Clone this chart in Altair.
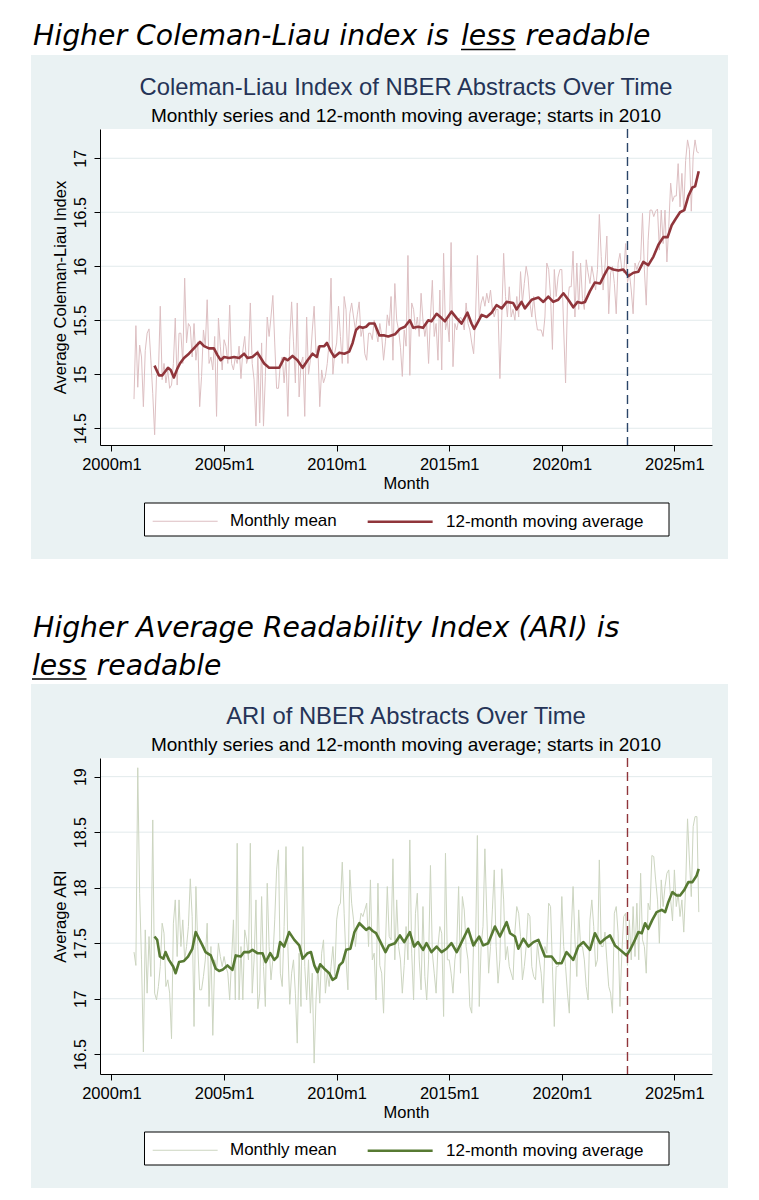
import altair as alt
import pandas as pd

# ---------------- data ----------------
FIRST_YEAR = 2001  # first monthly observation = 2001m1, one value per month

series = ["Monthly mean", "12-month moving average"]
x_ticks = [2000, 2005, 2010, 2015, 2020, 2025]
cli_ticks = [14.5, 15, 15.5, 16, 16.5, 17]
ari_ticks = [16.5, 17, 17.5, 18, 18.5, 19]
event_month = [2022 + 11 / 12]  # 2022m12, dashed vertical line

cli_monthly = [
    14.77, 15.45, 14.88, 15.27, 15.16, 14.70, 15.22, 15.38, 15.42, 15.13, 14.82, 14.44,
    14.99, 15.00, 15.63, 14.95, 15.10, 14.92, 15.04, 14.87, 14.90, 15.10, 15.52, 14.90,
    15.38, 15.38, 15.10, 15.89, 15.29, 15.47, 15.44, 15.16, 15.47, 15.13, 15.30, 14.70,
    14.98, 15.41, 15.26, 15.69, 15.10, 15.16, 15.04, 15.35, 14.61, 15.52, 15.26, 15.04,
    15.32, 15.26, 15.10, 15.64, 15.10, 15.04, 15.16, 15.10, 15.26, 14.96, 15.22, 15.35,
    15.10, 15.16, 15.66, 15.10, 14.95, 14.52, 15.22, 14.55, 15.29, 14.52, 14.98, 15.53,
    15.35, 15.53, 15.73, 15.29, 14.87, 14.87, 15.10, 15.16, 14.92, 15.16, 14.61, 15.32,
    15.67, 15.30, 14.92, 15.66, 14.79, 15.10, 15.16, 14.61, 15.53, 15.00, 15.13, 15.40,
    15.63, 15.20, 15.26, 14.70, 15.04, 14.92, 14.98, 15.10, 15.30, 15.89, 15.00, 15.20,
    15.29, 15.63, 15.35, 15.10, 15.72, 15.60, 15.10, 15.56, 15.66, 15.53, 15.41, 15.55,
    15.67, 15.35, 15.44, 15.19, 15.13, 15.38, 15.38, 15.32, 15.50, 15.40, 15.30, 15.47,
    15.36, 15.13, 15.30, 15.55, 15.45, 15.72, 15.13, 15.84, 15.50, 15.41, 15.25, 14.98,
    15.41, 15.26, 16.10, 14.99, 15.66, 15.60, 15.41, 15.53, 15.35, 15.75, 15.50, 15.35,
    15.47, 15.10, 15.53, 15.87, 15.35, 15.47, 15.13, 15.78, 15.04, 16.12, 15.41, 15.50,
    15.30, 16.22, 15.07, 15.47, 15.41, 15.50, 15.53, 15.50, 15.41, 15.66, 15.47, 15.41,
    15.29, 15.19, 15.53, 16.10, 15.53, 15.66, 15.72, 15.63, 15.75, 15.66, 15.78, 15.60,
    15.53, 15.60, 15.60, 14.96, 15.53, 16.12, 15.72, 15.53, 15.81, 15.53, 15.60, 15.50,
    15.72, 15.53, 15.95, 15.66, 15.84, 16.00, 15.90, 15.66, 15.53, 15.72, 15.53, 15.41,
    15.41, 15.41, 15.35, 15.53, 16.03, 15.97, 15.72, 15.23, 15.97, 15.72, 15.90, 15.97,
    15.97, 15.41, 14.92, 15.66, 15.81, 15.81, 16.14, 15.53, 16.03, 15.60, 16.03, 15.70,
    15.60, 16.06, 15.94, 15.84, 16.00, 15.90, 15.78, 15.97, 16.48, 16.09, 15.78, 16.00,
    16.28, 15.56, 15.94, 16.00, 15.84, 15.56, 16.03, 16.12, 15.97, 15.94, 16.21, 15.85,
    15.94, 15.78, 15.56, 16.03, 15.97, 16.03, 16.06, 16.49, 15.97, 15.64, 16.24, 16.52,
    16.52, 16.46, 16.51, 16.53, 16.15, 16.52, 16.21, 16.52, 16.04, 16.37, 16.77, 16.60,
    16.65, 16.65, 16.95, 16.55, 16.86, 16.52, 16.98, 17.17, 17.08, 16.51, 17.02, 17.17,
    17.06, 17.05,
]

cli_ma_t = [
    2001.91, 2002.11, 2002.26, 2002.51, 2002.63, 2002.77, 2002.92, 2003.04, 2003.22, 2003.44,
    2003.66, 2003.93, 2004.11, 2004.33, 2004.55, 2004.70, 2004.85, 2005.00, 2005.22, 2005.45,
    2005.67, 2005.89, 2006.04, 2006.26, 2006.48, 2006.63, 2006.78, 2007.00, 2007.23, 2007.45,
    2007.67, 2007.82, 2008.04, 2008.26, 2008.49, 2008.71, 2008.93, 2009.12, 2009.24, 2009.45,
    2009.57, 2009.75, 2009.90, 2010.12, 2010.34, 2010.56, 2010.71, 2010.86, 2011.01, 2011.16,
    2011.31, 2011.45, 2011.68, 2011.90, 2012.12, 2012.29, 2012.59, 2012.81, 2013.03, 2013.25,
    2013.40, 2013.62, 2013.84, 2014.07, 2014.21, 2014.44, 2014.66, 2014.81, 2015.10, 2015.33,
    2015.55, 2015.81, 2015.99, 2016.11, 2016.29, 2016.44, 2016.66, 2016.88, 2017.10, 2017.33,
    2017.55, 2017.84, 2017.99, 2018.21, 2018.36, 2018.66, 2018.96, 2019.18, 2019.40, 2019.62,
    2019.84, 2020.07, 2020.29, 2020.51, 2020.70, 2020.88, 2021.03, 2021.25, 2021.47, 2021.70,
    2021.89, 2022.07, 2022.29, 2022.51, 2022.73, 2022.96, 2023.18, 2023.40, 2023.62, 2023.84,
    2024.07, 2024.29, 2024.51, 2024.70, 2024.88, 2025.06, 2025.25, 2025.44, 2025.62, 2025.80,
    2025.92, 2026.08,
]
cli_ma_v = [
    15.08, 14.99, 14.99, 15.06, 15.04, 14.97, 15.05, 15.10, 15.15, 15.19,
    15.24, 15.30, 15.26, 15.24, 15.24, 15.18, 15.13, 15.16, 15.15, 15.16,
    15.15, 15.19, 15.15, 15.16, 15.20, 15.15, 15.10, 15.06, 15.06, 15.06,
    15.15, 15.13, 15.17, 15.13, 15.06, 15.13, 15.19, 15.16, 15.26, 15.26,
    15.29, 15.21, 15.16, 15.20, 15.19, 15.21, 15.29, 15.41, 15.44, 15.43,
    15.44, 15.47, 15.47, 15.36, 15.36, 15.35, 15.37, 15.42, 15.44, 15.50,
    15.43, 15.44, 15.43, 15.50, 15.49, 15.56, 15.52, 15.49, 15.58, 15.52,
    15.47, 15.57, 15.47, 15.42, 15.49, 15.55, 15.53, 15.57, 15.64, 15.61,
    15.67, 15.66, 15.60, 15.67, 15.61, 15.69, 15.71, 15.67, 15.72, 15.67,
    15.69, 15.75, 15.69, 15.62, 15.67, 15.66, 15.67, 15.77, 15.85, 15.84,
    15.92, 15.99, 15.97, 15.96, 15.97, 15.91, 15.94, 15.95, 16.04, 16.01,
    16.09, 16.20, 16.27, 16.27, 16.38, 16.44, 16.50, 16.52, 16.65, 16.73,
    16.74, 16.88,
]

ari_monthly = [
    17.42, 17.30, 19.08, 17.95, 17.35, 16.52, 17.62, 17.05, 17.56, 17.20, 18.61, 17.05,
    16.99, 17.11, 17.29, 17.68, 17.59, 17.11, 17.17, 17.05, 16.64, 17.68, 17.89, 17.38,
    17.89, 17.47, 17.71, 17.35, 17.47, 17.65, 18.08, 17.74, 16.75, 18.01, 17.47, 17.08,
    17.08, 17.20, 17.35, 17.68, 16.93, 17.47, 16.67, 17.35, 17.26, 17.50, 17.38, 17.29,
    17.38, 17.29, 17.23, 16.99, 17.35, 17.71, 16.99, 18.40, 16.99, 17.47, 16.99, 17.62,
    17.53, 17.35, 18.40, 17.05, 17.35, 17.89, 16.91, 17.05, 17.92, 17.29, 16.93, 18.04,
    17.47, 17.17, 17.35, 17.71, 18.16, 18.34, 17.23, 17.11, 17.65, 18.37, 17.47, 16.95,
    17.23, 17.35, 17.05, 16.60, 17.41, 16.93, 18.37, 17.29, 16.99, 17.35, 16.87, 17.23,
    16.42, 16.99, 17.29, 16.96, 17.41, 17.53, 17.05, 17.23, 17.11, 17.29, 17.47, 17.20,
    17.71, 17.83, 17.86, 18.23, 17.77, 17.35, 17.08, 18.16, 17.86, 17.71, 17.47, 17.65,
    17.65, 17.77, 17.74, 17.80, 17.86, 17.47, 18.07, 17.35, 17.41, 16.99, 18.04, 17.30,
    17.23, 16.87, 17.47, 18.01, 17.56, 17.53, 18.26, 17.35, 17.89, 17.47, 17.35, 17.05,
    17.30, 17.65, 17.35, 18.43, 17.41, 16.99, 17.77, 17.95, 17.35, 17.08, 17.83, 17.20,
    16.99, 17.35, 18.20, 17.41, 17.23, 17.05, 17.47, 17.65, 17.59, 16.84, 18.31, 17.35,
    17.35, 17.23, 17.05, 17.35, 17.47, 18.01, 17.23, 17.92, 17.80, 17.47, 17.35, 16.93,
    16.87, 17.53, 17.47, 18.47, 16.93, 17.47, 17.65, 18.35, 17.77, 17.23, 17.47, 17.80,
    18.16, 17.47, 17.14, 17.35, 18.17, 17.89, 17.35, 17.47, 17.29, 17.23, 17.17, 17.60,
    17.83, 17.77, 17.56, 17.17, 17.29, 17.47, 17.77, 17.74, 17.29, 17.20, 17.17, 17.50,
    17.35, 17.23, 16.96, 17.47, 17.41, 17.86, 17.83, 17.29, 16.75, 17.29, 17.29, 17.35,
    17.92, 17.47, 17.29, 17.05, 16.87, 17.59, 18.01, 17.53, 17.20, 17.80, 17.47, 17.47,
    17.35, 17.11, 16.99, 17.71, 17.89, 17.65, 17.29, 17.35, 18.25, 17.47, 17.47, 17.60,
    17.35, 17.11, 17.05, 16.87, 17.77, 17.83, 17.59, 16.93, 17.41, 17.74, 17.77, 17.30,
    17.71, 17.35, 17.83, 17.38, 17.86, 17.35, 18.13, 17.53, 17.47, 17.23, 17.86, 17.80,
    18.29, 18.28, 18.07, 17.89, 17.50, 18.07, 17.83, 18.01, 18.13, 18.16, 17.89, 17.70,
    18.16, 17.83, 17.95, 17.74, 17.89, 17.60, 18.01, 18.62, 18.25, 17.92, 18.55, 18.64,
    18.64, 17.78,
]

ari_ma_t = [
    2001.91, 2002.03, 2002.15, 2002.30, 2002.40, 2002.55, 2002.74, 2002.85, 2003.00, 2003.22,
    2003.40, 2003.59, 2003.74, 2003.89, 2004.04, 2004.18, 2004.41, 2004.63, 2004.78, 2004.93,
    2005.15, 2005.37, 2005.52, 2005.74, 2005.89, 2006.11, 2006.26, 2006.48, 2006.71, 2006.85,
    2007.05, 2007.23, 2007.37, 2007.49, 2007.67, 2007.89, 2008.12, 2008.34, 2008.49, 2008.71,
    2008.86, 2009.01, 2009.15, 2009.27, 2009.45, 2009.67, 2009.82, 2009.97, 2010.12, 2010.27,
    2010.42, 2010.61, 2010.79, 2011.01, 2011.16, 2011.31, 2011.45, 2011.60, 2011.75, 2011.90,
    2012.17, 2012.32, 2012.59, 2012.81, 2013.00, 2013.25, 2013.44, 2013.61, 2013.84, 2013.99,
    2014.21, 2014.44, 2014.66, 2014.88, 2015.10, 2015.33, 2015.55, 2015.84, 2016.07, 2016.33,
    2016.51, 2016.73, 2017.03, 2017.25, 2017.55, 2017.70, 2017.92, 2018.07, 2018.29, 2018.52,
    2018.74, 2018.96, 2019.25, 2019.55, 2019.77, 2019.99, 2020.21, 2020.51, 2020.73, 2020.96,
    2021.25, 2021.47, 2021.70, 2021.92, 2022.14, 2022.36, 2022.59, 2022.88, 2023.03, 2023.18,
    2023.40, 2023.55, 2023.70, 2023.84, 2024.02, 2024.21, 2024.44, 2024.59, 2024.73, 2024.91,
    2025.10, 2025.25, 2025.44, 2025.62, 2025.80, 2025.99, 2026.08,
]
ari_ma_v = [
    17.56, 17.53, 17.38, 17.36, 17.42, 17.35, 17.29, 17.23, 17.33, 17.34,
    17.38, 17.45, 17.60, 17.54, 17.48, 17.42, 17.39, 17.27, 17.25, 17.26,
    17.30, 17.26, 17.39, 17.38, 17.42, 17.42, 17.44, 17.41, 17.41, 17.33,
    17.41, 17.35, 17.38, 17.51, 17.47, 17.60, 17.53, 17.48, 17.36, 17.41,
    17.42, 17.30, 17.24, 17.31, 17.27, 17.23, 17.17, 17.19, 17.30, 17.33,
    17.44, 17.45, 17.60, 17.68, 17.65, 17.62, 17.64, 17.61, 17.59, 17.53,
    17.42, 17.48, 17.50, 17.57, 17.51, 17.60, 17.47, 17.51, 17.44, 17.50,
    17.42, 17.47, 17.42, 17.45, 17.50, 17.42, 17.51, 17.63, 17.48, 17.56,
    17.48, 17.50, 17.65, 17.56, 17.69, 17.59, 17.56, 17.45, 17.54, 17.47,
    17.51, 17.53, 17.38, 17.38, 17.32, 17.32, 17.42, 17.35, 17.47, 17.51,
    17.44, 17.59, 17.50, 17.54, 17.57, 17.48, 17.44, 17.39, 17.44, 17.50,
    17.60, 17.59, 17.68, 17.63, 17.71, 17.78, 17.80, 17.78, 17.87, 17.96,
    17.93, 17.93, 17.98, 18.05, 18.05, 18.11, 18.17,
]

# ---------------- styling ----------------
W, H = 612, 316
FONT = "Liberation Sans"
HEAD_FONT = "DejaVu Sans"
HEAD_SIZE = 28.3
PANEL_BG = "#EAF2F3"
GRID = "#E2EAEC"
NAVY = "#253457"


def panel(monthly, ma_t, ma_v, ticks, ydom, ytitle, title, light, dark,
          dash_color, heading, underline, anchor=False):
    mdf = pd.DataFrame({"t": [FIRST_YEAR + i / 12 for i in range(len(monthly))],
                        "v": monthly, "series": series[0]})
    adf = pd.DataFrame({"t": ma_t, "v": ma_v, "series": series[1]})
    gdf = pd.DataFrame({"v": ticks})
    edf = pd.DataFrame({"t": event_month})
    one = pd.DataFrame({"k": [0]})

    xaxis = alt.Axis(values=x_ticks, labelExpr="datum.value + 'm1'", grid=False,
                     tickSize=6, labelPadding=5, titlePadding=3, labelFlush=False,
                     labelOverlap=False, labelFontSize=16.5, titleFontSize=16.5,
                     titleFontWeight="normal", labelFont=FONT, titleFont=FONT,
                     labelColor="black", titleColor="black", domainColor="black",
                     tickColor="black", domainWidth=1, tickWidth=1, zindex=1)
    yaxis = alt.Axis(values=ticks, format="~g", grid=False, tickSize=6,
                     labelAngle=270, labelAlign="center", labelBaseline="alphabetic",
                     labelPadding=9, titlePadding=4, labelFontSize=16,
                     titleFontSize=16.5, titleFontWeight="normal", labelFont=FONT,
                     titleFont=FONT, labelColor="black", titleColor="black",
                     domainColor="black", tickColor="black", domainWidth=1,
                     tickWidth=1, zindex=1, labelOverlap=False)
    X = alt.X("t:Q", scale=alt.Scale(domain=[1999.49, 2026.67], nice=False, zero=False),
              axis=xaxis, title="Month")
    Y = alt.Y("v:Q", scale=alt.Scale(domain=ydom, nice=False, zero=False),
              axis=yaxis, title=ytitle)
    leg = alt.Legend(orient="none", legendX=52, legendY=380, direction="horizontal",
                     symbolType="M-1,0H5", symbolSize=469, labelOffset=55,
                     columnPadding=25, labelFontSize=17, labelFont=FONT,
                     labelColor="black", padding=0, labelLimit=0)
    C = alt.Color("series:N", scale=alt.Scale(domain=series, range=[light, dark]),
                  legend=leg, title=None)
    S = alt.StrokeWidth("series:N", scale=alt.Scale(type="ordinal", domain=series,
                                                     range=[1, 2.6]),
                        legend=leg, title=None)

    bg = alt.Chart(one).mark_rect(color=PANEL_BG).encode(
        x=alt.value(-69), x2=alt.value(628), y=alt.value(-74), y2=alt.value(430))
    plotbg = alt.Chart(one).mark_rect(color="white").encode(
        x=alt.value(0), x2=alt.value(W), y=alt.value(0), y2=alt.value(H))
    grid = alt.Chart(gdf).mark_rule(color=GRID, strokeWidth=1).encode(y=Y)
    mline = alt.Chart(mdf).mark_line(strokeJoin="round").encode(x=X, y=Y, color=C, strokeWidth=S)
    aline = alt.Chart(adf).mark_line(strokeJoin="round").encode(x=X, y=Y, color=C, strokeWidth=S)
    event = alt.Chart(edf).mark_rule(color=dash_color, strokeDash=[9, 5],
                                     strokeWidth=1.4).encode(x=X)
    legbox = alt.Chart(one).mark_rect(fill="white", stroke="black", strokeWidth=1).encode(
        x=alt.value(44.5), x2=alt.value(569), y=alt.value(374), y2=alt.value(407))

    layers = [bg, plotbg, grid, mline, aline, event, legbox]
    for txt, hx, hy in heading:
        layers.append(alt.Chart(one).mark_text(
            text=txt, font=HEAD_FONT, fontSize=HEAD_SIZE, fontStyle="italic", align="left",
            baseline="alphabetic", color="black").encode(x=alt.value(hx), y=alt.value(hy)))
    ux1, ux2, uy = underline
    layers.append(alt.Chart(one).mark_rule(color="black", strokeWidth=1.5).encode(
        x=alt.value(ux1), x2=alt.value(ux2), y=alt.value(uy)))
    layers.append(alt.Chart(one).mark_text(
        text=title, font=FONT, fontSize=23.8, color=NAVY, align="center",
        baseline="alphabetic").encode(x=alt.value(W / 2), y=alt.value(-34)))
    layers.append(alt.Chart(one).mark_text(
        text="Monthly series and 12-month moving average; starts in 2010", font=FONT,
        fontSize=19, color="black", align="center",
        baseline="alphabetic").encode(x=alt.value(W / 2), y=alt.value(-7)))
    if anchor:
        layers.append(alt.Chart(one).mark_rect(color="white").encode(
            x=alt.value(-92), x2=alt.value(-91), y=alt.value(-121), y2=alt.value(-120)))
    return alt.layer(*layers).properties(width=W, height=H)


p1 = panel(cli_monthly, cli_ma_t, cli_ma_v, cli_ticks, [14.345, 17.271],
           "Average Coleman-Liau Index", "Coleman-Liau Index of NBER Abstracts Over Time",
           "#DDBFC2", "#90353B", "#2B4569",
           [("Higher Coleman-Liau index is", -67, -84), ("less", 361, -84),
            ("readable", 425.6, -84)],
           (361, 415.5, -79.5), anchor=True)

p2 = panel(ari_monthly, ari_ma_t, ari_ma_v, ari_ticks, [16.322, 19.168],
           "Average ARI", "ARI of NBER Abstracts Over Time",
           "#CCD5C0", "#577A33", "#90353B",
           [("Higher Average Readability Index (ARI) is", -67, -121), ("less", -68, -83),
            ("readable", -3.4, -83)],
           (-68, -13.5, -79))

chart = (
    alt.vconcat(p1, p2, spacing=313, bounds="flush")
    .resolve_scale(color="independent", strokeWidth="independent")
    .resolve_legend(color="independent", strokeWidth="independent")
    .configure_view(strokeWidth=0)
    .properties(padding=0, background="white")
)

chart.save("out.html", embed_options={"renderer": "svg", "actions": False})
